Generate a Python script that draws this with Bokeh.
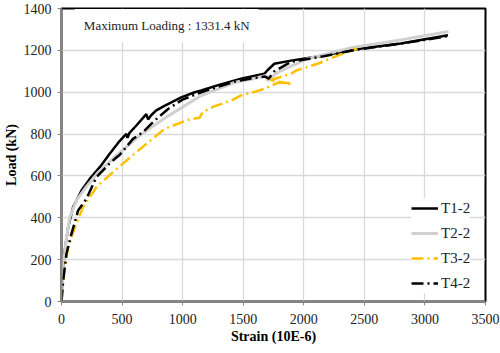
from bokeh.plotting import figure
from bokeh.models import Range1d, FixedTicker, Legend, LegendItem, Label
from bokeh.embed import file_html
from bokeh.resources import INLINE

# ---- data ----
t1_strain = [0, 8, 27, 55, 96, 165, 233, 316, 398, 470, 535, 545, 560, 618, 700, 715, 740, 782,
             850, 988, 1100, 1153, 1300, 1482, 1674, 1700, 1757, 1894, 2166, 2443, 2800, 3190]
t1_load = [0, 116, 244, 355, 451, 530, 586, 642, 706, 760, 801, 782, 805, 841, 895, 870, 890, 913,
           935, 975, 1000, 1008, 1035, 1064, 1088, 1105, 1136, 1151, 1175, 1207, 1233, 1272]

t2_strain = [0, 8, 16, 41, 69, 124, 200, 300, 453, 645, 865, 1153, 1425, 1565, 1688, 1702, 1730,
             1784, 2031, 2388, 2800, 3195]
t2_load = [0, 100, 182, 306, 403, 483, 545, 615, 698, 793, 881, 984, 1046, 1062, 1080, 1056, 1070,
           1095, 1160, 1212, 1250, 1290]

t3_strain = [0, 8, 27, 55, 110, 178, 288, 425, 600, 851, 1045, 1140, 1165, 1250, 1400, 1482, 1600,
             1674, 1790, 1905, 1715, 1894, 1935, 2114, 2279, 2443]
t3_load = [0, 68, 164, 259, 355, 451, 546, 618, 705, 825, 868, 878, 905, 930, 960, 985, 1003,
           1016, 1046, 1040, 1056, 1088, 1103, 1136, 1175, 1210]

t4_strain = [0, 14, 41, 82, 137, 206, 288, 398, 453, 480, 590, 672, 760, 880, 1000, 1153, 1425,
             1565, 1680, 1710, 1757, 1894, 2166, 2443, 2800, 3190]
t4_load = [0, 100, 228, 323, 435, 491, 594, 660, 688, 700, 777, 809, 860, 920, 965, 1000, 1050,
           1066, 1075, 1065, 1100, 1145, 1172, 1204, 1232, 1268]

series_names = ["T1-2", "T2-2", "T3-2", "T4-2"]
x_ticks = [0, 500, 1000, 1500, 2000, 2500, 3000, 3500]
y_ticks = [0, 200, 400, 600, 800, 1000, 1200, 1400]
annotation_text = "Maximum Loading : 1331.4 kN"

FONT = "Liberation Serif"

p = figure(width=500, height=353, output_backend="svg", toolbar_location=None,
           x_range=Range1d(0, 3500), y_range=Range1d(0, 1400),
           min_border_left=60, min_border_right=15, min_border_top=8, min_border_bottom=52)
p.background_fill_color = "white"
p.border_fill_color = "white"
p.outline_line_color = "black"
p.outline_line_width = 2

for ax in (p.xaxis[0], p.yaxis[0]):
    ax.axis_line_color = "#868686"
    ax.axis_line_width = 2
    ax.major_tick_line_color = "#868686"
    ax.major_tick_in = 0
    ax.major_tick_out = 4
    ax.minor_tick_line_color = None
    ax.major_label_text_font = FONT
    ax.major_label_text_font_size = "14px"
    ax.major_label_text_color = "#222222"
    ax.axis_label_text_font = FONT
    ax.axis_label_text_font_size = "14px"
    ax.axis_label_text_font_style = "bold"
    ax.axis_label_text_color = "black"

p.xaxis.ticker = FixedTicker(ticks=x_ticks)
p.yaxis.ticker = FixedTicker(ticks=y_ticks)
p.xaxis.axis_label = "Strain (10E-6)"
p.yaxis.axis_label = "Load (kN)"
p.xaxis.major_label_standoff = 8
p.xaxis.axis_label_standoff = 2
p.yaxis.major_label_standoff = 6
p.yaxis.axis_label_standoff = 2

p.xgrid.grid_line_color = "#d9d9d9"
p.ygrid.grid_line_color = "#d9d9d9"
p.xgrid.grid_line_width = 1.3
p.ygrid.grid_line_width = 1.3

r1 = p.line(t1_strain, t1_load, line_color="black", line_width=2.5)
r2 = p.line(t2_strain, t2_load, line_color="#d0d0d0", line_width=3)
r3 = p.line(t3_strain, t3_load, line_color="#ffc000", line_width=2.5, line_dash="12 4 2 4")
r4 = p.line(t4_strain, t4_load, line_color="black", line_width=2.5, line_dash="12 4 2 4")

legend = Legend(items=[LegendItem(label=n, renderers=[r]) for n, r in zip(series_names, [r1, r2, r3, r4])],
                location=(350, 8))
legend.label_text_font = FONT
legend.label_text_font_size = "15px"
legend.label_text_color = "#222222"
legend.glyph_width = 27
legend.glyph_height = 20
legend.label_height = 20
legend.label_standoff = 3
legend.spacing = 5
legend.padding = 6
legend.margin = 0
legend.border_line_color = None
legend.background_fill_color = "white"
legend.background_fill_alpha = 1
p.add_layout(legend, "center")

lab = Label(x=110, y=1319, text=annotation_text, text_font=FONT, text_font_size="13px",
            text_baseline="middle", text_color="#222222",
            background_fill_color="white", background_fill_alpha=1, padding=9)
p.add_layout(lab)

open("out.html", "w").write(file_html(p, INLINE))
